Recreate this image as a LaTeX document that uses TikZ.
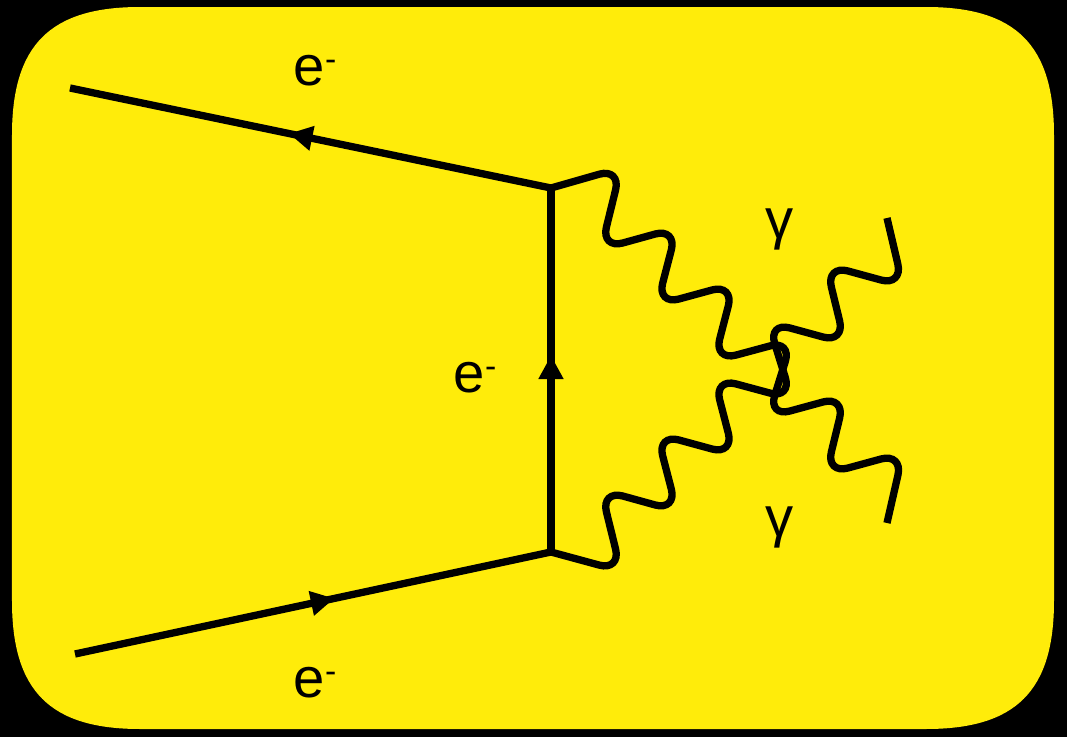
\documentclass[tikz,border=0pt]{standalone}
\usepackage{fontspec}
\setmainfont{Liberation Sans}
\usetikzlibrary{arrows.meta,decorations.markings}
\definecolor{cardyellow}{HTML}{FFEC0A}
\newcommand{\elec}{e\raisebox{5.2pt}{\fontsize{12pt}{12pt}\selectfont -}}

\begin{document}
\begin{tikzpicture}[
  x=0.0125cm,y=-0.0125cm,
  label/.style={font=\fontsize{20pt}{22pt}\selectfont,inner sep=0pt,anchor=base},
  fermion/.style={line width=2.6pt,postaction={decorate},decoration={markings,
    mark=at position #1 with {\arrow{Triangle[length=8.4pt,width=8.4pt]}}}},
  photon/.style={line width=2.6pt,rounded corners=8pt}
]
\useasboundingbox (0,0) rectangle (1067,737);
\fill[black] (0,0) rectangle (1067,737);
\fill[cardyellow] (12,135) .. controls (12,45) and (50,7) .. (140,7) -- (926,7)
  .. controls (1016,7) and (1054,45) .. (1054,135) -- (1054,601)
  .. controls (1054,691) and (1016,729) .. (926,729) -- (140,729)
  .. controls (50,729) and (12,691) .. (12,601) -- cycle;

\coordinate (outgoing) at (70,88);
\coordinate (incoming) at (75,654);
\coordinate (vtop) at (551,188);
\coordinate (vbot) at (551,552);
\coordinate (gammaend) at (887,523);
\coordinate (gammaendup) at (887,218);

\draw[fermion=.545] (vtop) -- (outgoing);
\draw[fermion=.545] (incoming) -- (vbot);
\draw[fermion=.54] (vbot) -- (vtop);

\draw[photon] (vtop) -- (621,168) -- (601,249) -- (677,228) -- (657,305) -- (734,284) -- (714,361) -- (792,340) -- (768,417) -- (845,396) -- (826,474) -- (903,453) -- (gammaend);
\draw[photon] (vbot) -- (621,571) -- (601,490) -- (677,511) -- (657,434) -- (734,455) -- (714,378) -- (792,399) -- (768,322) -- (845,343) -- (826,265) -- (903,286) -- (gammaendup);

\node[label] (etop) at (315,85) {\elec};
\node[label] (emid) at (475,392) {\elec};
\node[label] (ebot) at (315,697) {\elec};
\node[label] (gtop) at (780,238) {γ};
\node[label] (gbot) at (780,536) {γ};
\end{tikzpicture}
\end{document}
